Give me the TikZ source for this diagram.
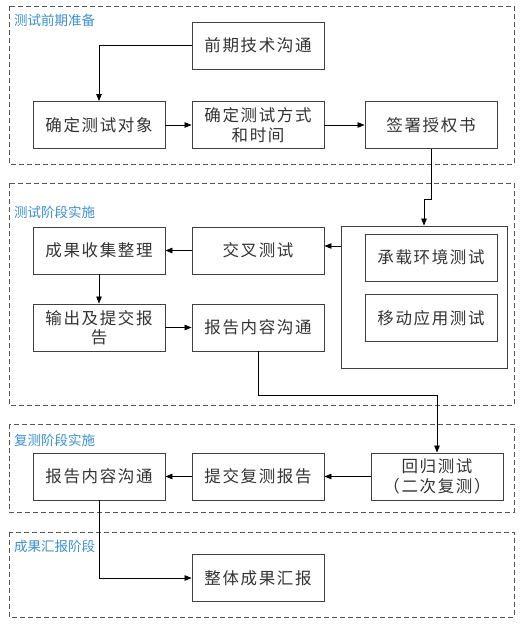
\documentclass[tikz,border=0pt]{standalone}
\usepackage{fontspec}
\setmainfont{Liberation Serif}
\newfontfamily\cjk[LetterSpace=10]{Noto Sans CJK SC}
\newfontfamily\cjklab{Noto Sans CJK SC}
\usetikzlibrary{arrows.meta,positioning}
\definecolor{labblue}{HTML}{3A8FD6}
\definecolor{boxline}{HTML}{404040}
\definecolor{dashline}{HTML}{555555}
\tikzset{
  stepbox/.style={draw=boxline, line width=0.9pt, minimum width=132pt, minimum height=47pt,
    inner sep=0pt, align=center, font=\fontsize{16.5}{19.5}\cjk\selectfont, text=black!80},
  phase/.style={draw=dashline, line width=0.8pt, dash pattern=on 5pt off 3pt},
  phaselab/.style={anchor=west, inner sep=0pt, text=labblue, font=\fontsize{13.5}{15}\cjklab\selectfont},
  conn/.style={draw=black, line width=0.8pt, -{Triangle[length=7pt,width=5.5pt]}},
}
\begin{document}
\begin{tikzpicture}[x=1pt,y=-1pt]
\useasboundingbox (0,0) rectangle (525,626);
% phase frames
\draw[phase] (9,6) rectangle (514,164);
\draw[phase] (9,183) rectangle (514,405);
\draw[phase] (9,424) rectangle (514,512);
\draw[phase] (9,532) rectangle (514,617);
\node[phaselab] (l1) at (14,20) {测试前期准备};
\node[phaselab] (l2) at (14,212) {测试阶段实施};
\node[phaselab] (l3) at (14,440) {复测阶段实施};
\node[phaselab] (l4) at (14,546) {成果汇报阶段};
% phase 1
\node[stepbox] (a1) at (258,45.5) {前期技术沟通};
\node[stepbox] (a2) at (99,125) {确定测试对象};
\node[stepbox] (a3) at (258,125) {确定测试方式\\和时间};
\node[stepbox] (a4) at (431,125) {签署授权书};
% phase 2
\node[draw=boxline, line width=0.9pt, minimum width=166pt, minimum height=142pt, inner sep=0pt] (big) at (424,297) {};
\node[stepbox] (b1) at (431,257.5) {承载环境测试};
\node[stepbox] (b2) at (431,318) {移动应用测试};
\node[stepbox] (b3) at (258,250.5) {交叉测试};
\node[stepbox] (b4) at (99,250.5) {成果收集整理};
\node[stepbox] (b5) at (99,327.5) {输出及提交报\\告};
\node[stepbox] (b6) at (258,327.5) {报告内容沟通};
% phase 3
\node[stepbox] (c1) at (437,476.5) {回归测试\\（二次复测）};
\node[stepbox] (c2) at (258,476.5) {提交复测报告};
\node[stepbox] (c3) at (99,476.5) {报告内容沟通};
% phase 4
\node[stepbox] (d1) at (258,578) {整体成果汇报};
% connectors
\draw[conn] (a1.west) -| (a2.north);
\draw[conn] (a2) -- (a3);
\draw[conn] (a3) -- (a4);
\coordinate (j1) at (431,199);
\coordinate (j2) at (424,199);
\draw[conn] (a4.south) -- (j1) -- (j2) -- (big.north);
\coordinate (bl) at (341,246);
\draw[conn] (bl) -- (bl -| b3.east);
\draw[conn] (b3) -- (b4);
\draw[conn] (b4) -- (b5);
\draw[conn] (b5) -- (b6);
\coordinate (j3) at (258,395);
\coordinate (j4) at (437,395);
\draw[conn] (b6.south) -- (j3) -- (j4) -- (c1.north);
\draw[conn] (c1) -- (c2);
\draw[conn] (c2) -- (c3);
\draw[conn] (c3.south) |- (d1.west);
\end{tikzpicture}
\end{document}
